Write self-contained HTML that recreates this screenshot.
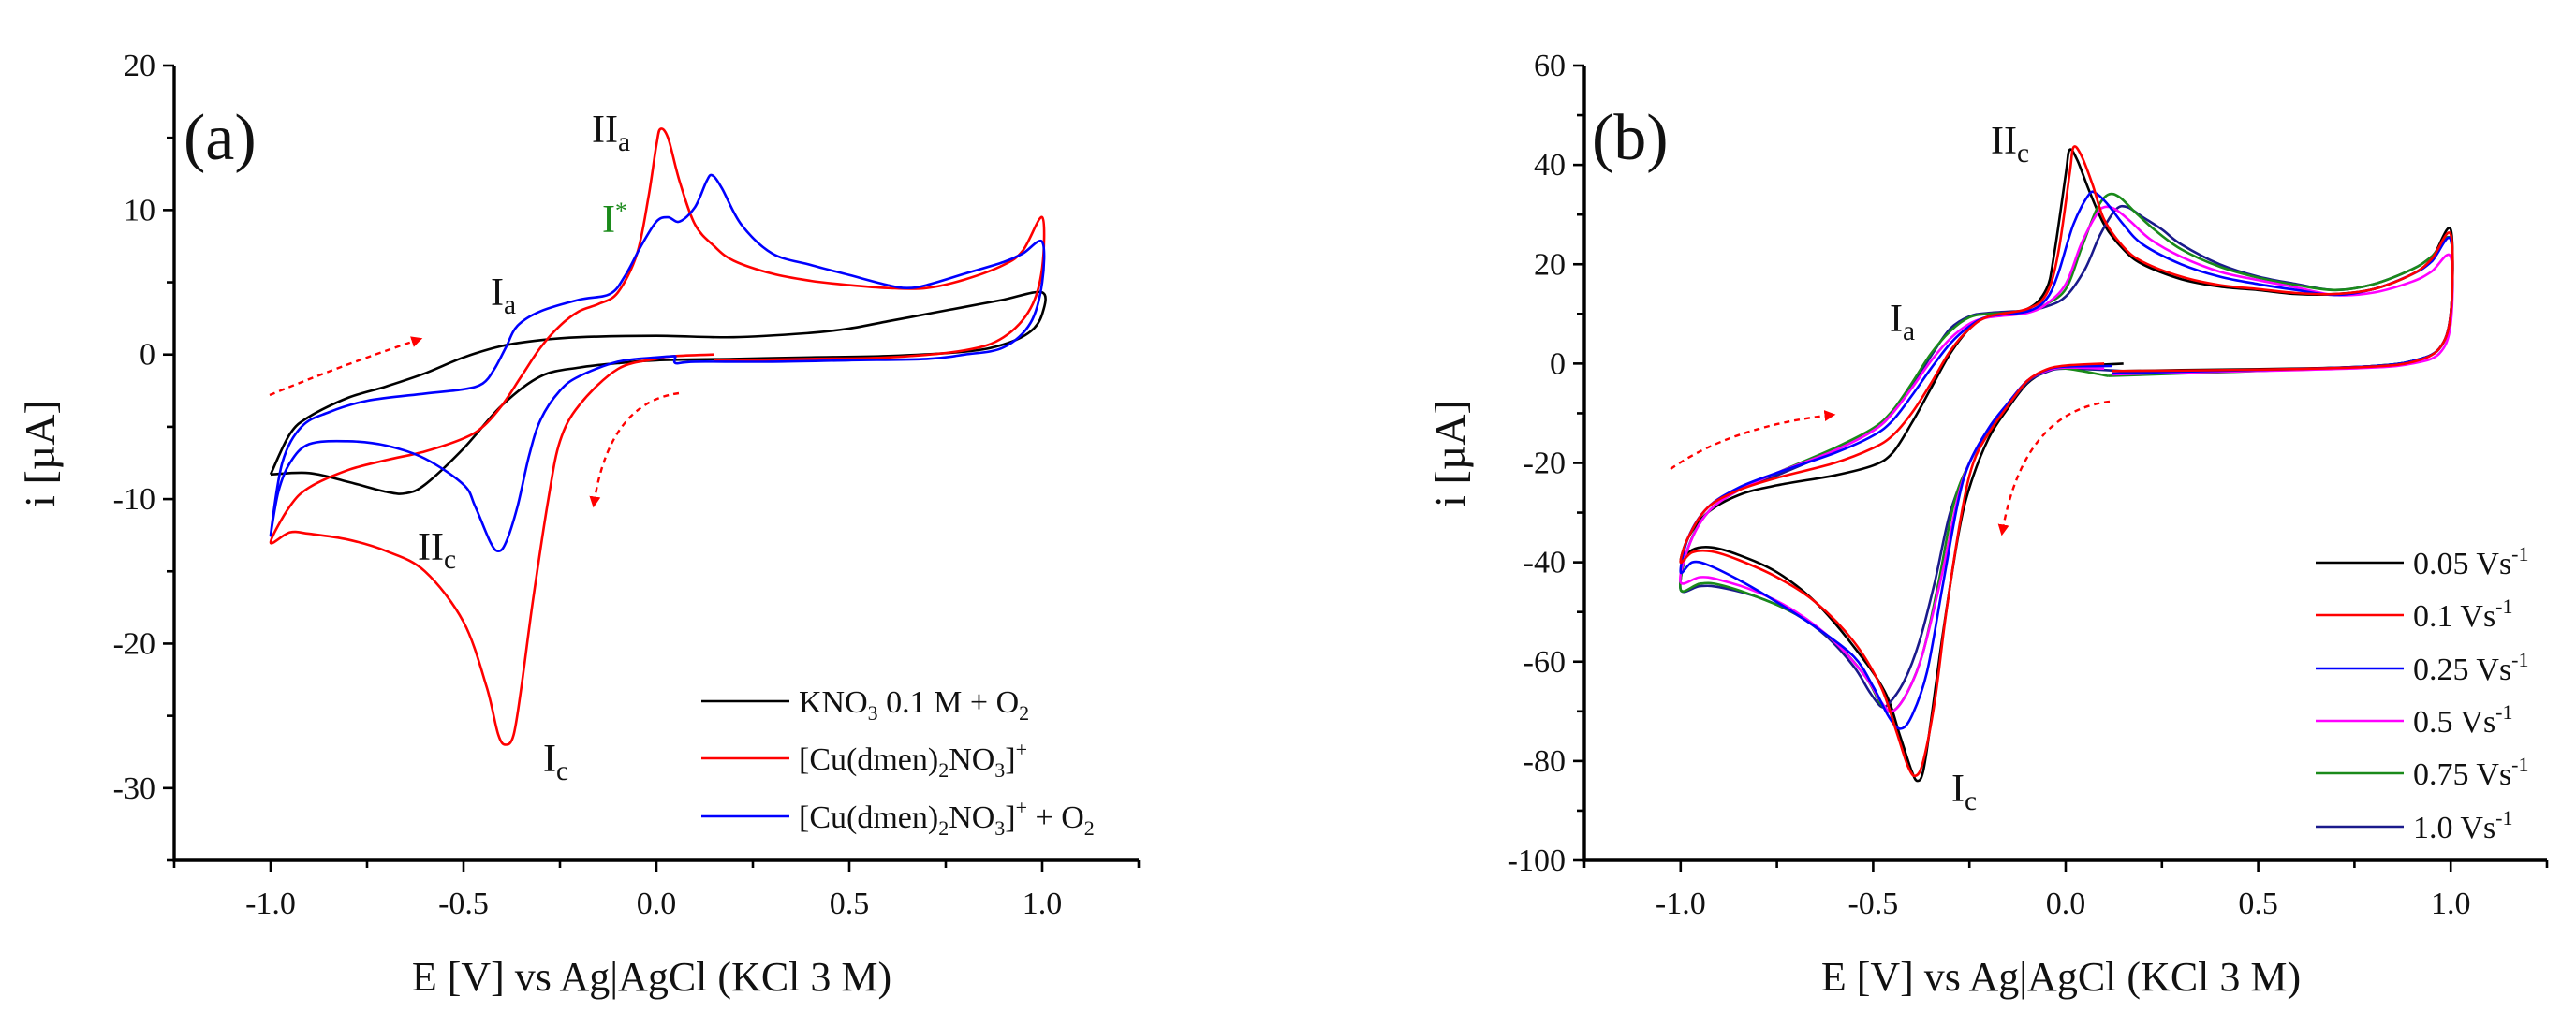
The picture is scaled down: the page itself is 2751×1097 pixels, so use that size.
<!DOCTYPE html>
<html><head><meta charset="utf-8"><style>
html,body{margin:0;padding:0;background:#fff;width:2751px;height:1097px;overflow:hidden}
svg{display:block}
text{font-family:"Liberation Serif",serif;fill:#111}
</style></head><body>
<svg id="fig" width="2751" height="1097" viewBox="0 0 2751 1097" xmlns="http://www.w3.org/2000/svg">
<defs>
<marker id="arr" viewBox="0 0 10 10" refX="8" refY="5" markerWidth="5" markerHeight="5" orient="auto"><path d="M0,0 L10,5 L0,10 z" fill="#f00"/></marker>
</defs>
<g id="pa"></g>
<g id="pb"></g>
</svg>
<script>
// ---------- Panel (a) data ----------
const aXTicks = [-1.0,-0.5,0.0,0.5,1.0];
const aYTicks = [20,10,0,-10,-20,-30];
const aSeriesNames = ["KNO3","Cu","CuO2"];
const aKNO3 = [[-1,-8.3],[-0.95,-5.5],[-0.9,-4.3],[-0.8,-3.0],[-0.7,-2.2],[-0.6,-1.3],[-0.5,-0.2],[-0.4,0.6],[-0.3,1.0],[-0.2,1.2],[0,1.3],[0.2,1.2],[0.4,1.5],[0.5,1.8],[0.6,2.3],[0.7,2.8],[0.8,3.3],[0.9,3.8],[1.0,4.3],[1.0,2.8],[0.97,1.6],[0.9,0.7],[0.8,0.2],[0.6,-0.1],[0.4,-0.2],[0.2,-0.3],[0,-0.4],[-0.1,-0.6],[-0.2,-0.9],[-0.3,-1.5],[-0.4,-3.5],[-0.5,-6.5],[-0.6,-9.0],[-0.65,-9.6],[-0.7,-9.5],[-0.8,-8.8],[-0.9,-8.2],[-1,-8.3]];
const aCu = [[0.15,0],[0.05,-0.1],[0,-0.3],[-0.1,-1.0],[-0.2,-3.5],[-0.25,-6],[-0.28,-10],[-0.32,-17],[-0.35,-23],[-0.37,-26.3],[-0.39,-27],[-0.41,-26.3],[-0.44,-23],[-0.5,-18.5],[-0.6,-15],[-0.7,-13.6],[-0.8,-12.8],[-0.9,-12.4],[-0.95,-12.3],[-1.0,-13],[-0.95,-10.5],[-0.9,-9.2],[-0.8,-8.0],[-0.7,-7.3],[-0.6,-6.7],[-0.5,-5.8],[-0.45,-5.0],[-0.4,-3.5],[-0.35,-1.5],[-0.3,0.5],[-0.25,2.0],[-0.2,3.0],[-0.15,3.5],[-0.1,4.3],[-0.05,7],[-0.02,11],[0,14.5],[0.01,15.6],[0.03,15],[0.06,12],[0.1,9],[0.15,7.5],[0.2,6.5],[0.3,5.6],[0.4,5.1],[0.5,4.8],[0.6,4.6],[0.7,4.6],[0.8,5.2],[0.9,6.2],[0.95,7.2],[1.0,9.5],[1.0,6],[0.97,3.2],[0.9,1.2],[0.8,0.3],[0.6,-0.2],[0.4,-0.3],[0.2,-0.4],[0.15,-0.4]];
const aCuO2 = [[0.05,-0.1],[0,-0.2],[-0.1,-0.5],[-0.2,-1.5],[-0.25,-2.5],[-0.3,-4.5],[-0.33,-7],[-0.36,-10.5],[-0.39,-13],[-0.41,-13.6],[-0.43,-13],[-0.47,-10.5],[-0.5,-9],[-0.6,-7.2],[-0.7,-6.3],[-0.8,-6.0],[-0.9,-6.2],[-0.95,-7.5],[-0.98,-9.5],[-1.0,-12.5],[-0.97,-7.5],[-0.92,-5.0],[-0.85,-4.0],[-0.75,-3.2],[-0.6,-2.7],[-0.5,-2.4],[-0.45,-2.0],[-0.42,-1.0],[-0.39,0.5],[-0.36,2.0],[-0.3,3.0],[-0.2,3.8],[-0.12,4.2],[-0.08,5.5],[-0.04,7.5],[0,9.2],[0.03,9.5],[0.06,9.2],[0.1,10.2],[0.13,12],[0.145,12.4],[0.17,11.5],[0.22,9],[0.3,7],[0.4,6.2],[0.5,5.5],[0.6,4.8],[0.65,4.6],[0.7,4.8],[0.8,5.6],[0.9,6.4],[0.95,7],[1.0,7.8],[1.0,5],[0.97,2.2],[0.9,0.5],[0.8,0],[0.7,-0.3],[0.5,-0.4],[0.3,-0.5],[0.1,-0.5],[0.05,-0.6],[0.05,-0.1]];

// ---------- Panel (b) data ----------
const bXTicks = [-1.0,-0.5,0.0,0.5,1.0];
const bYTicks = [60,40,20,0,-20,-40,-60,-80,-100];
const bRates = ["0.05","0.1","0.25","0.5","0.75","1.0"];
const b005 = [[0.15,0],[0.1,-0.2],[0,-0.5],[-0.05,-1.5],[-0.1,-4],[-0.15,-9],[-0.2,-15],[-0.25,-25],[-0.28,-35],[-0.32,-55],[-0.35,-72],[-0.37,-82],[-0.385,-84],[-0.4,-82],[-0.43,-75],[-0.47,-66],[-0.55,-57],[-0.65,-48],[-0.75,-42],[-0.85,-38.5],[-0.92,-37],[-0.97,-37.5],[-1.0,-40],[-0.98,-35],[-0.93,-30],[-0.85,-26.5],[-0.75,-24.5],[-0.6,-22.5],[-0.5,-20.5],[-0.45,-18],[-0.4,-12],[-0.35,-5],[-0.3,2],[-0.25,7],[-0.2,9.5],[-0.1,11],[-0.05,15],[-0.03,22],[0,38],[0.01,43],[0.03,41],[0.06,35],[0.1,28],[0.15,23],[0.2,20],[0.3,17],[0.4,15.5],[0.5,14.8],[0.6,14],[0.7,14],[0.8,15],[0.9,18],[0.95,21],[1.0,27],[1.0,10],[0.97,3],[0.9,0.5],[0.8,-0.5],[0.6,-1],[0.3,-1.3],[0.15,-1.5]];
const b01 = [[0.1,0],[0,-0.4],[-0.05,-1.2],[-0.1,-3.5],[-0.15,-8.5],[-0.2,-14],[-0.24,-20],[-0.27,-30],[-0.31,-50],[-0.34,-68],[-0.37,-80],[-0.39,-83],[-0.41,-81],[-0.44,-74],[-0.48,-65],[-0.55,-56],[-0.65,-48],[-0.75,-43],[-0.85,-39.5],[-0.92,-37.8],[-0.97,-38],[-1.0,-40],[-0.98,-35],[-0.93,-29],[-0.85,-25.5],[-0.75,-23],[-0.6,-20],[-0.5,-17],[-0.45,-14.5],[-0.4,-10],[-0.35,-4],[-0.3,2.5],[-0.25,7],[-0.2,9.5],[-0.1,11],[-0.05,14],[-0.02,22],[0.01,38],[0.02,43.5],[0.04,42],[0.07,36],[0.1,29],[0.15,23.5],[0.2,20.5],[0.3,17.5],[0.4,15.8],[0.5,15],[0.6,14.2],[0.7,14],[0.8,15],[0.9,18],[0.95,21],[1.0,26],[1.0,10],[0.97,3],[0.9,0.3],[0.8,-0.6],[0.6,-1.1],[0.3,-1.4],[0.12,-1.5]];
const b025 = [[0.12,-0.5],[0,-0.6],[-0.05,-1.3],[-0.1,-3.5],[-0.15,-8],[-0.2,-13],[-0.25,-20],[-0.28,-28],[-0.32,-45],[-0.36,-62],[-0.4,-71],[-0.43,-73.5],[-0.46,-71],[-0.5,-65],[-0.55,-59],[-0.65,-53],[-0.75,-48],[-0.85,-43.5],[-0.93,-40.5],[-0.97,-40],[-1.0,-42],[-0.98,-35],[-0.93,-29],[-0.85,-25],[-0.75,-22],[-0.6,-18],[-0.5,-14.5],[-0.45,-11.5],[-0.4,-6.5],[-0.35,-1],[-0.3,4],[-0.25,7.5],[-0.2,9.5],[-0.1,10.5],[-0.05,13],[-0.02,18],[0.02,28],[0.06,34],[0.08,34.2],[0.11,32],[0.15,28],[0.2,24],[0.3,20],[0.4,17.5],[0.5,16],[0.6,14.8],[0.7,13.8],[0.8,15],[0.9,18],[0.95,20.5],[1.0,25],[1.0,10],[0.97,3],[0.9,0.5],[0.8,-0.5],[0.6,-1.1],[0.3,-1.6],[0.12,-2]];
const b05 = [[0.1,-1],[0,-0.8],[-0.05,-1.5],[-0.1,-3.5],[-0.15,-8],[-0.2,-13],[-0.25,-20],[-0.28,-27],[-0.32,-42],[-0.37,-58],[-0.41,-66],[-0.45,-70],[-0.48,-68],[-0.52,-63],[-0.6,-56],[-0.7,-50],[-0.8,-46],[-0.9,-43.5],[-0.95,-43],[-1.0,-44],[-0.98,-37],[-0.93,-30],[-0.85,-25.5],[-0.75,-22],[-0.6,-17.5],[-0.5,-13.5],[-0.45,-10],[-0.4,-5],[-0.35,0.5],[-0.3,5],[-0.25,8],[-0.2,9.3],[-0.1,10.2],[-0.05,12],[0,16],[0.04,24],[0.08,30],[0.1,31.5],[0.13,31],[0.17,28.5],[0.22,25],[0.3,21.5],[0.4,18.5],[0.5,16.8],[0.6,15.3],[0.7,13.8],[0.8,14.3],[0.9,16.5],[0.95,18.5],[1.0,21.5],[1.0,8],[0.97,2],[0.9,0],[0.8,-0.8],[0.6,-1.3],[0.3,-1.8],[0.12,-2.2]];
const b075 = [[0.11,-2.5],[0,-1],[-0.05,-1.5],[-0.1,-3.5],[-0.15,-8],[-0.2,-13],[-0.25,-20],[-0.29,-28],[-0.33,-44],[-0.37,-58],[-0.41,-66],[-0.45,-70],[-0.48,-68.5],[-0.52,-63],[-0.6,-56],[-0.7,-50.5],[-0.8,-47],[-0.9,-44.5],[-0.95,-44.3],[-1.0,-45.5],[-0.98,-37],[-0.93,-30],[-0.85,-25.5],[-0.75,-22],[-0.6,-17],[-0.5,-13],[-0.45,-9.5],[-0.4,-4],[-0.35,2],[-0.3,6.5],[-0.25,9.3],[-0.2,10],[-0.1,10.5],[-0.05,12],[0,15],[0.04,23],[0.08,31],[0.11,34],[0.14,33.5],[0.18,30.5],[0.23,27],[0.3,23],[0.4,19.5],[0.5,17.3],[0.6,15.8],[0.7,14.8],[0.8,16],[0.9,19],[0.95,21.5],[1.0,25],[1.0,10],[0.97,3],[0.9,0.5],[0.8,-0.5],[0.6,-1.2],[0.3,-2],[0.11,-2.5]];
const b10 = [[0.15,-1.5],[0,-1],[-0.05,-1.7],[-0.1,-3.8],[-0.15,-8.5],[-0.2,-13.5],[-0.25,-20],[-0.3,-30],[-0.34,-44],[-0.38,-56],[-0.42,-64],[-0.46,-68.5],[-0.48,-69],[-0.51,-66],[-0.55,-61],[-0.62,-55],[-0.7,-50.5],[-0.8,-47],[-0.9,-45],[-0.95,-44.8],[-1.0,-45.5],[-0.98,-37],[-0.93,-30],[-0.85,-25.5],[-0.75,-22.5],[-0.6,-17.5],[-0.5,-13.5],[-0.45,-10],[-0.4,-4.5],[-0.35,1.5],[-0.3,7],[-0.25,9.5],[-0.2,10.2],[-0.1,10.7],[-0.05,11.5],[0,13.5],[0.05,19],[0.09,26],[0.13,31],[0.16,31.5],[0.2,29.5],[0.25,27],[0.3,24],[0.4,20],[0.5,17.5],[0.6,16],[0.7,14.8],[0.8,16],[0.9,19],[0.95,21.5],[1.0,25],[1.0,10],[0.97,3],[0.9,0.5],[0.8,-0.5],[0.6,-1.2],[0.3,-1.8],[0.15,-1.5]];

const NS="http://www.w3.org/2000/svg";
function mk(parent,tag,attrs){const e=document.createElementNS(NS,tag);for(const k in attrs)e.setAttribute(k,attrs[k]);parent.appendChild(e);return e;}
function smooth(pts){
  let d="M"+pts[0][0].toFixed(1)+","+pts[0][1].toFixed(1);
  for(let i=0;i<pts.length-1;i++){
    const p0=pts[Math.max(0,i-1)],p1=pts[i],p2=pts[i+1],p3=pts[Math.min(pts.length-1,i+2)];
    const c1=[p1[0]+(p2[0]-p0[0])/6,p1[1]+(p2[1]-p0[1])/6];
    const c2=[p2[0]-(p3[0]-p1[0])/6,p2[1]-(p3[1]-p1[1])/6];
    d+=` C${c1[0].toFixed(1)},${c1[1].toFixed(1)} ${c2[0].toFixed(1)},${c2[1].toFixed(1)} ${p2[0].toFixed(1)},${p2[1].toFixed(1)}`;
  }
  return d;
}
function axes(g,o){
  const X=E=>o.x0+(E-o.xmin)/(o.xmax-o.xmin)*(o.x1-o.x0);
  const Y=v=>o.y1-(v-o.ymin)/(o.ymax-o.ymin)*(o.y1-o.y0);
  const ax=mk(g,"g",{});
  
  
  mk(ax,"path",{d:`M${o.x0},${o.y0} L${o.x0},${o.y1} L${o.x1},${o.y1}`,fill:"none",stroke:"#000","stroke-width":3.4});
  for(let E=o.xmin;E<=o.xmax+1e-9;E+=0.25){const maj=Math.abs(E*2-Math.round(E*2))<1e-6;
    mk(ax,"line",{x1:X(E),y1:o.y1,x2:X(E),y2:o.y1+(maj?12:8),stroke:"#000","stroke-width":2.6});}
  for(let v=o.ymin;v<=o.ymax+1e-9;v+=o.ystep/2){
    mk(ax,"line",{x1:o.x0,y1:Y(v),x2:o.x0-(Math.abs((v/o.ystep)-Math.round(v/o.ystep))<1e-6?12:8),y2:Y(v),stroke:"#000","stroke-width":2.6});}
  o.xt.forEach(E=>{const t=mk(ax,"text",{x:X(E),y:o.y1+57,"text-anchor":"middle","font-size":34});t.textContent=E.toFixed(1);
    });
  o.yt.forEach(v=>{const t=mk(ax,"text",{x:o.x0-20,y:Y(v)+11,"text-anchor":"end","font-size":34});t.textContent=v;
    });
  const xt=mk(ax,"text",{x:(o.x0+o.x1)/2-5,y:1058,"text-anchor":"middle","font-size":44});xt.textContent="E [V] vs Ag|AgCl (KCl 3 M)";
  
  const yt=mk(ax,"text",{x:0,y:0,"text-anchor":"middle","font-size":46,transform:`translate(${o.x0-128},${(o.y0+o.y1)/2-10}) rotate(-90)`});yt.textContent="i [µA]";
  
  return {X,Y};
}
function series(g,data,sc,color,name){
  const p=mk(g,"path",{d:smooth(data.map(q=>[sc.X(q[0]),sc.Y(q[1])])),fill:"none",stroke:color,"stroke-width":2.6,"stroke-linejoin":"round"});
  
  
}
function label(g,x,y,main,sub,sup,color,name,fs){
  const t=mk(g,"text",{x:x,y:y,"font-size":fs||42,fill:color||"#111"});
  
  
  t.style.fill=color||"#111";
  const a=mk(t,"tspan",{});a.textContent=main;
  if(sub){const s=mk(t,"tspan",{"font-size":(fs||42)*0.7,dy:9});s.textContent=sub;}
  if(sup){const s=mk(t,"tspan",{"font-size":(fs||42)*0.6,dy:-15});s.textContent=sup;}
}
function legendRow(g,x,y,color,parts,name){
  const r=mk(g,"g",{});
  
  
  mk(r,"line",{x1:x,y1:y,x2:x+94,y2:y,stroke:color,"stroke-width":2.4});
  const t=mk(r,"text",{x:x+104,y:y+12,"font-size":34});
  parts.forEach(p=>{const s=mk(t,"tspan",{});s.textContent=p[0];
    if(p[1]==="sub"){s.setAttribute("font-size",22);s.setAttribute("dy",8);}
    if(p[1]==="sup"){s.setAttribute("font-size",22);s.setAttribute("dy",-14);}
    if(p[1]==="back"){s.setAttribute("dy",p[2]);}});
}
function dashArrow(g,d,name){
  const p=mk(g,"path",{d:d,fill:"none",stroke:"#f00","stroke-width":2.4,"stroke-dasharray":"6,5","marker-end":"url(#arr)"});
  
  
}

// Panel a
const ga=document.getElementById("pa");
const sa=axes(ga,{x0:186,x1:1216,y0:70,y1:919,xmin:-1.25,xmax:1.25,ymin:-35,ymax:20,ystep:10,xt:aXTicks,yt:aYTicks});
series(ga,aKNO3,sa,"#000","series-kno3");
series(ga,aCu,sa,"#f00","series-cu-complex");
series(ga,aCuO2,sa,"#00f","series-cu-complex-o2");
label(ga,196,170,"(a)",null,null,"#111","panel-label-a",70);
label(ga,632,152,"II","a",null,"#111","peak-label-IIa");
label(ga,643,248,"I",null,"*","#1a8a1a","peak-label-Istar");
label(ga,524,326,"I","a",null,"#111","peak-label-Ia");
label(ga,446,598,"II","c",null,"#111","peak-label-IIc");
label(ga,580,824,"I","c",null,"#111","peak-label-Ic");
dashArrow(ga,"M288,422 Q360,392 449,362","scan-arrow-forward-a");
dashArrow(ga,"M725,420 Q650,430 634,540","scan-arrow-reverse-a");
const la=mk(ga,"g",{});


legendRow(la,749,749,"#000",[["KNO"],["3","sub"],[" 0.1 M + O","back",-8],["2","sub"]],"legend-entry-kno3");
legendRow(la,749,810,"#f00",[["[Cu(dmen)"],["2","sub"],["NO","back",-8],["3","sub"],["]","back",-8],["+","sup"]],"legend-entry-cu");
legendRow(la,749,872,"#00f",[["[Cu(dmen)"],["2","sub"],["NO","back",-8],["3","sub"],["]","back",-8],["+","sup"],[" + O","back",14],["2","sub"]],"legend-entry-cu-o2");

// Panel b
const gb=document.getElementById("pb");
const sb=axes(gb,{x0:1692,x1:2720,y0:70,y1:919,xmin:-1.25,xmax:1.25,ymin:-100,ymax:60,ystep:20,xt:bXTicks,yt:bYTicks});
const bData=[b005,b01,b025,b05,b075,b10];
const bColors=["#000","#f00","#00f","#f0f","#1a8a1a","#1a1a8c"];
[0,5,4,3,2,1].forEach(k=>series(gb,bData[k],sb,bColors[k],"series-"+bRates[k]+"-vs"));
label(gb,1700,170,"(b)",null,null,"#111","panel-label-b",70);
label(gb,2126,164,"II","c",null,"#111","peak-label-IIc-b");
label(gb,2018,354,"I","a",null,"#111","peak-label-Ia-b");
label(gb,2084,856,"I","c",null,"#111","peak-label-Ic-b");
dashArrow(gb,"M1784,501 Q1850,455 1958,443","scan-arrow-forward-b");
dashArrow(gb,"M2253,429 Q2160,440 2138,570","scan-arrow-reverse-b");
const lb=mk(gb,"g",{});


const lbY=[601,657,714,770,826,883];
bRates.forEach((r,k)=>legendRow(lb,2473,lbY[k],bColors[k],[[r+" Vs"],["-1","sup"]],"legend-entry-"+r));
</script>
</body></html>
